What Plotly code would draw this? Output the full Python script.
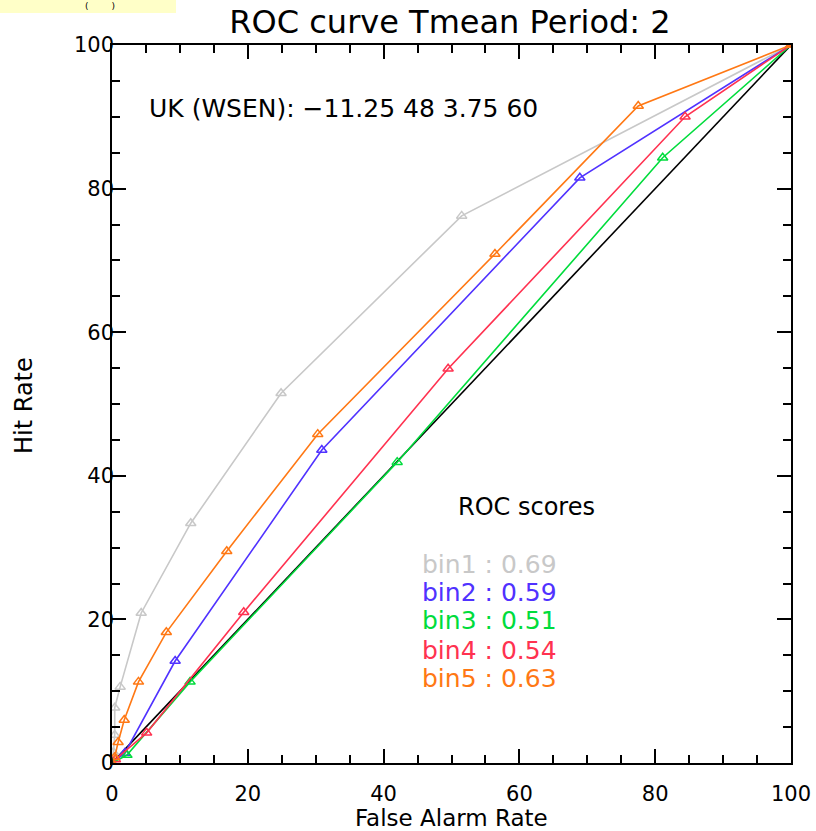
import plotly.graph_objects as go

# ---- data ----
diag_x = [0, 100]
diag_y = [0, 100]

bin1_x = [0, 0.2, 0.4, 0.4, 1.2, 4.3, 11.6, 24.9, 51.5, 100]
bin1_y = [0, 1.5, 3.9, 7.7, 10.6, 20.9, 33.4, 51.5, 76.2, 100]

bin2_x = [0, 1.9, 9.3, 30.9, 68.9, 100]
bin2_y = [0, 1.4, 14.2, 43.6, 81.5, 100]

bin3_x = [0, 2.2, 11.5, 42.0, 81.1, 100]
bin3_y = [0, 1.1, 11.3, 41.9, 84.3, 100]

bin4_x = [0, 0.5, 5.1, 19.4, 49.5, 84.4, 100]
bin4_y = [0, 0.5, 4.2, 21.0, 54.9, 90.0, 100]

bin5_x = [0, 0.4, 0.9, 1.8, 3.9, 8.0, 16.9, 30.3, 56.4, 77.5, 100]
bin5_y = [0, 0.8, 2.9, 6.0, 11.3, 18.2, 29.5, 45.8, 70.9, 91.5, 100]

bin_names = ["bin1", "bin2", "bin3", "bin4", "bin5"]
roc_scores = ["0.69", "0.59", "0.51", "0.54", "0.63"]
bin_colors = ["#C8C8C8", "#5032FF", "#00DC3C", "#FF3250", "#FF7814"]

title_text = "ROC curve Tmean Period: 2"
region_text = "UK (WSEN): \u221211.25 48 3.75 60"
x_title = "False Alarm Rate"
y_title = "Hit Rate"

FONT = "DejaVu Sans"
W, H = 816, 831
L, R, T, B = 112, 25, 45, 68
PW, PH = W - L - R, H - T - B


def px_to_paper_x(px):
    return (px - L) / PW


def px_to_paper_y(py):
    return (H - B - py) / PH


fig = go.Figure()
fig.add_trace(go.Scatter(x=diag_x, y=diag_y, mode="lines",
                         line=dict(color="black", width=1.6), showlegend=False))

series = [(bin1_x, bin1_y), (bin2_x, bin2_y), (bin3_x, bin3_y),
          (bin4_x, bin4_y), (bin5_x, bin5_y)]
for (xs, ys), c in zip(series, bin_colors):
    fig.add_trace(go.Scatter(
        x=xs, y=ys, mode="lines+markers",
        line=dict(color=c, width=1.6),
        marker=dict(symbol="triangle-up-open", size=9, color=c,
                    line=dict(color=c, width=1.5)),
        showlegend=False))

axis_common = dict(
    range=[0, 100], showline=True, linecolor="black", linewidth=1.5,
    mirror="ticks", ticks="inside", ticklen=14, tickwidth=1.5, tickcolor="black",
    dtick=20, showgrid=False, zeroline=False, automargin=False,
    ticklabeloverflow="allow",
    minor=dict(dtick=5, ticks="inside", ticklen=8, tickwidth=1.5, tickcolor="black"),
    tickfont=dict(family=FONT, size=21, color="black"),
)

fig.update_layout(
    width=W, height=H, autosize=False,
    margin=dict(l=L, r=R, t=T, b=B, autoexpand=False),
    paper_bgcolor="white", plot_bgcolor="white",
    font=dict(family=FONT, color="black"),
    title=dict(text=title_text, x=450 / W, xanchor="center",
               y=1 - 22 / H, yanchor="middle",
               font=dict(family=FONT, size=32, color="black")),
    xaxis=dict(**axis_common, ticklabelstandoff=11),
    yaxis=dict(**axis_common, ticklabelstandoff=-8),
)

annotations = [
    dict(x=5.1, y=91.2, xref="x", yref="y", text=region_text, showarrow=False,
         xanchor="left", yanchor="middle", font=dict(family=FONT, size=25, color="black")),
    dict(x=61.1, y=35.7, xref="x", yref="y", text="ROC scores", showarrow=False,
         xanchor="center", yanchor="middle", font=dict(family=FONT, size=24, color="black")),
    # axis titles
    dict(x=px_to_paper_x(451), y=px_to_paper_y(818), xref="paper", yref="paper",
         text=x_title, showarrow=False, xanchor="center", yanchor="middle",
         font=dict(family=FONT, size=23, color="black")),
    dict(x=px_to_paper_x(24), y=px_to_paper_y(405), xref="paper", yref="paper",
         text=y_title, showarrow=False, xanchor="center", yanchor="middle", textangle=-90,
         font=dict(family=FONT, size=24, color="black")),
]
bin_y_pos = [27.6, 23.7, 19.8, 15.7, 11.8]
for name, sc, c, yy in zip(bin_names, roc_scores, bin_colors, bin_y_pos):
    annotations.append(dict(x=45.4, y=yy, xref="x", yref="y",
                            text=f"{name} : {sc}", showarrow=False,
                            xanchor="left", yanchor="middle",
                            font=dict(family=FONT, size=25, color=c)))
# small label in the top-left yellow box
annotations.append(dict(x=px_to_paper_x(100), y=px_to_paper_y(6), xref="paper", yref="paper",
                        text="(        )", showarrow=False, xanchor="center", yanchor="middle",
                        font=dict(family=FONT, size=9, color="black")))
fig.update_layout(annotations=annotations)

fig.add_shape(type="rect", xref="paper", yref="paper",
              x0=px_to_paper_x(0), x1=px_to_paper_x(176),
              y0=px_to_paper_y(13), y1=px_to_paper_y(0),
              fillcolor="#FFFFC8", line=dict(width=0), layer="below")

fig.write_html(
    "out.html",
    config={"displayModeBar": False, "responsive": False},
    post_script="document.body.style.margin='0';document.body.style.overflow='hidden';",
)
